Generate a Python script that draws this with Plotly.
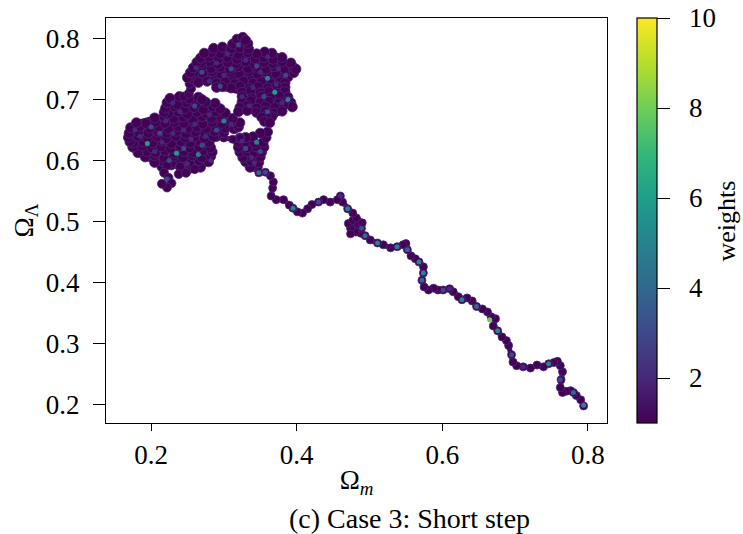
import plotly.graph_objects as go

# ---- chain path (Omega_m, Omega_Lambda) ----
tail_x = [0.794,0.790,0.784,0.780,0.776,0.770,0.765,0.762,0.763,0.765,0.762,0.758,0.753,0.746,0.739,0.730,0.721,0.711,0.702,0.697,0.695,0.691,0.688,0.682,0.676,0.670,0.673,0.667,0.662,0.655,0.647,0.641,0.634,0.627,0.622,0.615,0.610,0.601,0.594,0.588,0.581,0.575,0.572,0.574,0.574,0.568,0.563,0.557,0.552,0.550,0.546,0.538,0.529,0.519,0.511,0.501,0.494,0.488,0.481,0.474,0.471,0.477,0.485,0.489,0.482,0.474,0.490,0.477,0.470,0.463,0.460,0.456,0.446,0.437,0.430,0.421,0.415,0.408,0.401,0.395,0.390,0.382,0.372,0.365,0.367,0.368,0.364,0.357,0.348,0.343]
tail_y = [0.198,0.208,0.215,0.220,0.223,0.222,0.220,0.228,0.241,0.254,0.264,0.271,0.269,0.267,0.262,0.265,0.260,0.262,0.264,0.270,0.282,0.297,0.305,0.311,0.321,0.329,0.341,0.344,0.352,0.357,0.361,0.370,0.375,0.372,0.377,0.385,0.390,0.388,0.388,0.391,0.388,0.393,0.404,0.416,0.426,0.434,0.439,0.444,0.454,0.464,0.462,0.459,0.457,0.462,0.465,0.470,0.477,0.481,0.483,0.489,0.497,0.502,0.495,0.489,0.506,0.480,0.498,0.514,0.521,0.532,0.542,0.536,0.532,0.536,0.532,0.528,0.521,0.514,0.516,0.522,0.527,0.536,0.536,0.542,0.555,0.565,0.575,0.581,0.580,0.588]

rblob_x = [0.346,0.340,0.336,0.330,0.338,0.348,0.350,0.338,0.326,0.322,0.332,0.342,0.352,0.355,0.344,0.332,0.320,0.320,0.330,0.342,0.354,0.358,0.360,0.350,0.340,0.330,0.322]
rblob_y = [0.590,0.591,0.589,0.598,0.599,0.597,0.606,0.607,0.605,0.614,0.615,0.613,0.614,0.622,0.623,0.621,0.622,0.630,0.631,0.629,0.630,0.638,0.647,0.645,0.639,0.638,0.637]

link_x = [0.322,0.312,0.300,0.290,0.282]
link_y = [0.637,0.635,0.637,0.638,0.640]

lclus_x = [0.215,0.228,0.241,0.254,0.268,
           0.279,0.266,0.253,0.240,0.228,0.215,0.205,
           0.192,0.205,0.218,0.231,0.244,0.257,0.270,0.282,
           0.284,0.271,0.258,0.245,0.232,0.219,0.206,0.194,0.182,
           0.175,0.188,0.201,0.214,0.227,0.240,0.253,0.266,0.282,
           0.280,0.267,0.254,0.241,0.228,0.215,0.202,0.189,0.176,0.171,
           0.169,0.182,0.195,0.208,0.221,0.234,0.247,0.260,0.273,0.286,
           0.300,0.287,0.274,0.261,0.248,0.235,0.222,0.209,0.196,0.183,0.170,
           0.172,0.185,0.198,0.211,0.224,0.237,0.250,0.263,0.276,0.289,0.302,0.314,0.320,
           0.322,0.310,0.297,0.284,0.271,0.258,0.245,0.232,0.219,0.206,0.193,0.180,
           0.205,0.218,0.231,0.244,0.257,0.270,0.283,0.296,0.312,
           0.302,0.289,0.276,0.263,0.250,0.237,0.224,0.218,
           0.220,0.233,0.246,0.259,0.272,0.285,0.295,
           0.288,0.275,0.262,0.249,0.236,0.222,
           0.226,0.239,0.252,0.265,0.270]
lclus_y = [0.590,0.593,0.588,0.591,0.589,
           0.598,0.600,0.597,0.599,0.596,0.599,0.597,
           0.606,0.608,0.604,0.607,0.605,0.608,0.605,0.607,
           0.614,0.616,0.613,0.615,0.612,0.616,0.613,0.615,0.613,
           0.622,0.624,0.621,0.623,0.620,0.624,0.621,0.623,0.621,
           0.630,0.632,0.629,0.631,0.628,0.632,0.629,0.631,0.629,0.631,
           0.638,0.640,0.637,0.639,0.636,0.640,0.637,0.639,0.637,0.639,
           0.646,0.648,0.645,0.647,0.644,0.648,0.645,0.647,0.645,0.647,0.645,
           0.654,0.656,0.653,0.655,0.652,0.656,0.653,0.655,0.653,0.655,0.653,0.652,0.655,
           0.662,0.664,0.661,0.663,0.660,0.664,0.661,0.663,0.661,0.663,0.661,0.662,
           0.670,0.672,0.669,0.671,0.668,0.672,0.669,0.671,0.669,
           0.678,0.680,0.677,0.679,0.676,0.680,0.677,0.679,
           0.686,0.688,0.685,0.687,0.684,0.688,0.685,
           0.694,0.696,0.693,0.695,0.692,0.695,
           0.702,0.705,0.701,0.704,0.700]

drop_x = [0.222,0.218,0.224,0.228,0.222,0.215]
drop_y = [0.592,0.580,0.572,0.563,0.556,0.562]
spur_x = [0.240,0.238,0.248,0.260]
spur_y = [0.590,0.578,0.580,0.586]

arm_x = [0.245,0.252,0.255,0.253,0.258,0.262]
arm_y = [0.705,0.710,0.718,0.726,0.733,0.738]

tclus_x = [0.250,0.262,0.275,0.288,0.300,0.313,0.325,0.338,0.350,0.363,0.375,0.388,
           0.396,0.384,0.371,0.359,0.346,0.334,0.321,0.309,0.296,0.284,0.271,0.259,0.254,
           0.258,0.270,0.283,0.295,0.308,0.320,0.333,0.345,0.358,0.370,0.383,0.395,0.399,
           0.392,0.380,0.367,0.355,0.342,0.330,0.317,0.305,0.292,0.280,0.268,0.263,
           0.268,0.280,0.293,0.305,0.318,0.330,0.343,0.355,0.368,0.380,
           0.366,0.356,0.345,0.333,0.320,0.308,0.295,0.283,0.273,
           0.286,0.298,0.310,0.322,0.334,
           0.333,0.322,0.312,
           0.318,0.326,0.330]
tclus_y = [0.736,0.738,0.735,0.737,0.734,0.738,0.735,0.737,0.734,0.737,0.735,0.737,
           0.744,0.746,0.743,0.745,0.742,0.746,0.743,0.745,0.742,0.746,0.743,0.745,0.744,
           0.752,0.754,0.751,0.753,0.750,0.754,0.751,0.753,0.750,0.754,0.751,0.753,0.750,
           0.760,0.762,0.759,0.761,0.758,0.762,0.759,0.761,0.758,0.762,0.759,0.761,
           0.768,0.770,0.767,0.769,0.766,0.770,0.767,0.769,0.766,0.769,
           0.776,0.778,0.775,0.777,0.774,0.778,0.775,0.777,0.776,
           0.784,0.786,0.783,0.785,0.783,
           0.792,0.794,0.791,
           0.799,0.802,0.797]

tlow_x = [0.265,0.277,0.290,0.302,0.315,0.327,0.340,0.352,0.365,0.377,0.384,
          0.384,0.372,0.360,0.347,0.335,0.322,0.310,0.298,0.290,
          0.325,0.337,0.350,0.362,0.374,0.384,
          0.388,0.376,0.364,0.351,0.338,0.325,
          0.325,0.337,0.350,0.362,0.375,0.387,0.392,
          0.394,0.382,0.370,0.357,0.345,0.332,0.322,
          0.320,0.332,0.345,0.357,0.369,0.380,
          0.366,0.358,0.352,
          0.356,0.363]
tlow_y = [0.728,0.730,0.727,0.729,0.726,0.730,0.727,0.729,0.726,0.729,0.727,
          0.720,0.722,0.719,0.721,0.718,0.722,0.719,0.721,0.720,
          0.712,0.714,0.711,0.713,0.710,0.713,
          0.704,0.706,0.703,0.705,0.702,0.705,
          0.696,0.698,0.695,0.697,0.694,0.697,0.695,
          0.688,0.690,0.687,0.689,0.686,0.690,0.687,
          0.680,0.682,0.679,0.681,0.678,0.681,
          0.672,0.674,0.671,
          0.664,0.662]

# ---- samples with weight > 1 ----
hl_x = [0.185,0.200,0.215,0.230,0.245,0.260,0.275,0.290,0.205,0.225,0.250,0.265,0.240,0.260,0.280,0.300,0.230,0.195,0.178,0.255,0.270,0.220,0.235,0.222,0.310,0.245,0.212,0.282,
        0.330,0.345,0.338,0.325,0.350,0.342,
        0.270,0.290,0.305,0.320,0.330,0.345,0.360,0.375,0.385,0.360,0.340,0.355,0.370,0.380,0.335,0.360,0.300,0.280,0.262,0.310,0.350,0.372,0.388,0.325,0.295,
        0.794,0.780,0.762,0.746,0.665,0.676,0.647,0.627,0.574,0.572,0.568,0.552,0.538,0.511,0.494,0.470,0.489,0.395,0.348,0.357,0.430,0.460,0.610,0.601,0.711,0.695]
hl_y = [0.640,0.655,0.630,0.645,0.620,0.660,0.640,0.650,0.615,0.600,0.595,0.610,0.680,0.690,0.675,0.665,0.695,0.628,0.650,0.635,0.625,0.665,0.612,0.570,0.660,0.650,0.645,0.600,
        0.620,0.630,0.605,0.632,0.615,0.596,
        0.745,0.760,0.775,0.790,0.765,0.755,0.770,0.750,0.740,0.735,0.720,0.705,0.712,0.695,0.690,0.680,0.740,0.730,0.752,0.750,0.745,0.725,0.700,0.705,0.722,
        0.199,0.220,0.241,0.267,0.339,0.321,0.361,0.372,0.416,0.404,0.434,0.454,0.459,0.465,0.477,0.521,0.489,0.522,0.580,0.581,0.532,0.542,0.390,0.388,0.262,0.282]
hl_w = [2,3,2,2,3,2,2,3,2,3,2,5,2,3,2,5,2,6,2,2,3,2,6,3,2,2,3,2,
        3,5,2,2,3,2,
        3,2,2,3,2,3,2,2,3,5,2,3,6,2,2,3,2,2,2,3,2,2,5,2,3,
        5,4,3,5,8,5,4,5,5,4,5,4,5,5,4,5,3,5,4,3,3,2,2,3,2,3]

cbar_ticks = [2, 4, 6, 8, 10]

FONT = "Liberation Serif"
DARK = "#440154"
EDGE = "#472a7a"
PAD = "\u2002"

fig = go.Figure()

segments = [
    (tail_x, tail_y, 5, 8),
    (rblob_x, rblob_y, 5, 10),
    (link_x, link_y, 5, 8),
    (lclus_x, lclus_y, 5, 10),
    (drop_x, drop_y, 5, 9),
    (spur_x, spur_y, 5, 9),
    (arm_x, arm_y, 5, 9),
    (tclus_x, tclus_y, 5, 10),
    (tlow_x, tlow_y, 5, 10),
]
for sx, sy, lw, ms in segments:
    fig.add_trace(go.Scatter(
        x=sx, y=sy, mode="lines+markers",
        line=dict(color=DARK, width=lw),
        marker=dict(color=DARK, size=ms, line=dict(width=0.8, color=EDGE)),
        showlegend=False, hoverinfo="skip"))

fig.add_trace(go.Scatter(
    x=hl_x, y=hl_y, mode="markers",
    marker=dict(
        color=hl_w, colorscale="Viridis", cmin=1, cmax=10, size=5,
        line=dict(width=0),
        colorbar=dict(
            x=1.06, xanchor="left", xpad=0, y=0.5, yanchor="middle",
            len=1.0, lenmode="fraction", ypad=0, thickness=20,
            outlinewidth=1.2, outlinecolor="black",
            tickvals=cbar_ticks, ticktext=[PAD + str(t) for t in cbar_ticks],
            ticks="outside", ticklen=13,
            tickwidth=1.2, tickcolor="black",
            tickfont=dict(family=FONT, size=27, color="black"),
        )),
    showlegend=False))

fig.update_layout(
    width=743, height=534,
    margin=dict(l=106, r=136, t=18, b=111),
    plot_bgcolor="white", paper_bgcolor="white",
    font=dict(family=FONT, size=27, color="black"),
    xaxis=dict(
        range=[0.1382, 0.8261], tickvals=[0.2, 0.4, 0.6, 0.8],
        ticktext=["0.2", "0.4", "0.6", "0.8"],
        showgrid=False, zeroline=False,
        showline=True, mirror=True, linecolor="black", linewidth=1.3,
        ticks="outside", ticklen=7, tickwidth=1.3, tickcolor="black",
        tickfont=dict(family=FONT, size=27),
        title=dict(text="Ω<sub><i>m</i></sub>", standoff=1,
                   font=dict(family=FONT, size=27)),
    ),
    yaxis=dict(
        range=[0.170, 0.8337],
        tickvals=[0.2, 0.3, 0.4, 0.5, 0.6, 0.7, 0.8],
        ticktext=["0.2", "0.3", "0.4", "0.5", "0.6", "0.7", "0.8"],
        showgrid=False, zeroline=False,
        showline=True, mirror=True, linecolor="black", linewidth=1.3,
        ticks="outside", ticklen=12, tickwidth=1.3, tickcolor="black",
        ticklabelstandoff=8,
        tickfont=dict(family=FONT, size=27),
        title=dict(text="Ω<sub>Λ</sub>", standoff=4,
                   font=dict(family=FONT, size=27)),
    ),
    annotations=[
        dict(text="(c) Case 3: Short step", xref="paper", yref="paper",
             x=0.605, y=-0.236, xanchor="center", yanchor="middle",
             showarrow=False, font=dict(family=FONT, size=28, color="black")),
        dict(text="weights", xref="paper", yref="paper",
             x=1.2395, y=0.5, xanchor="center", yanchor="middle",
             textangle=-90, showarrow=False, borderpad=0,
             font=dict(family=FONT, size=26, color="black")),
    ],
)

fig.write_html("out.html")
